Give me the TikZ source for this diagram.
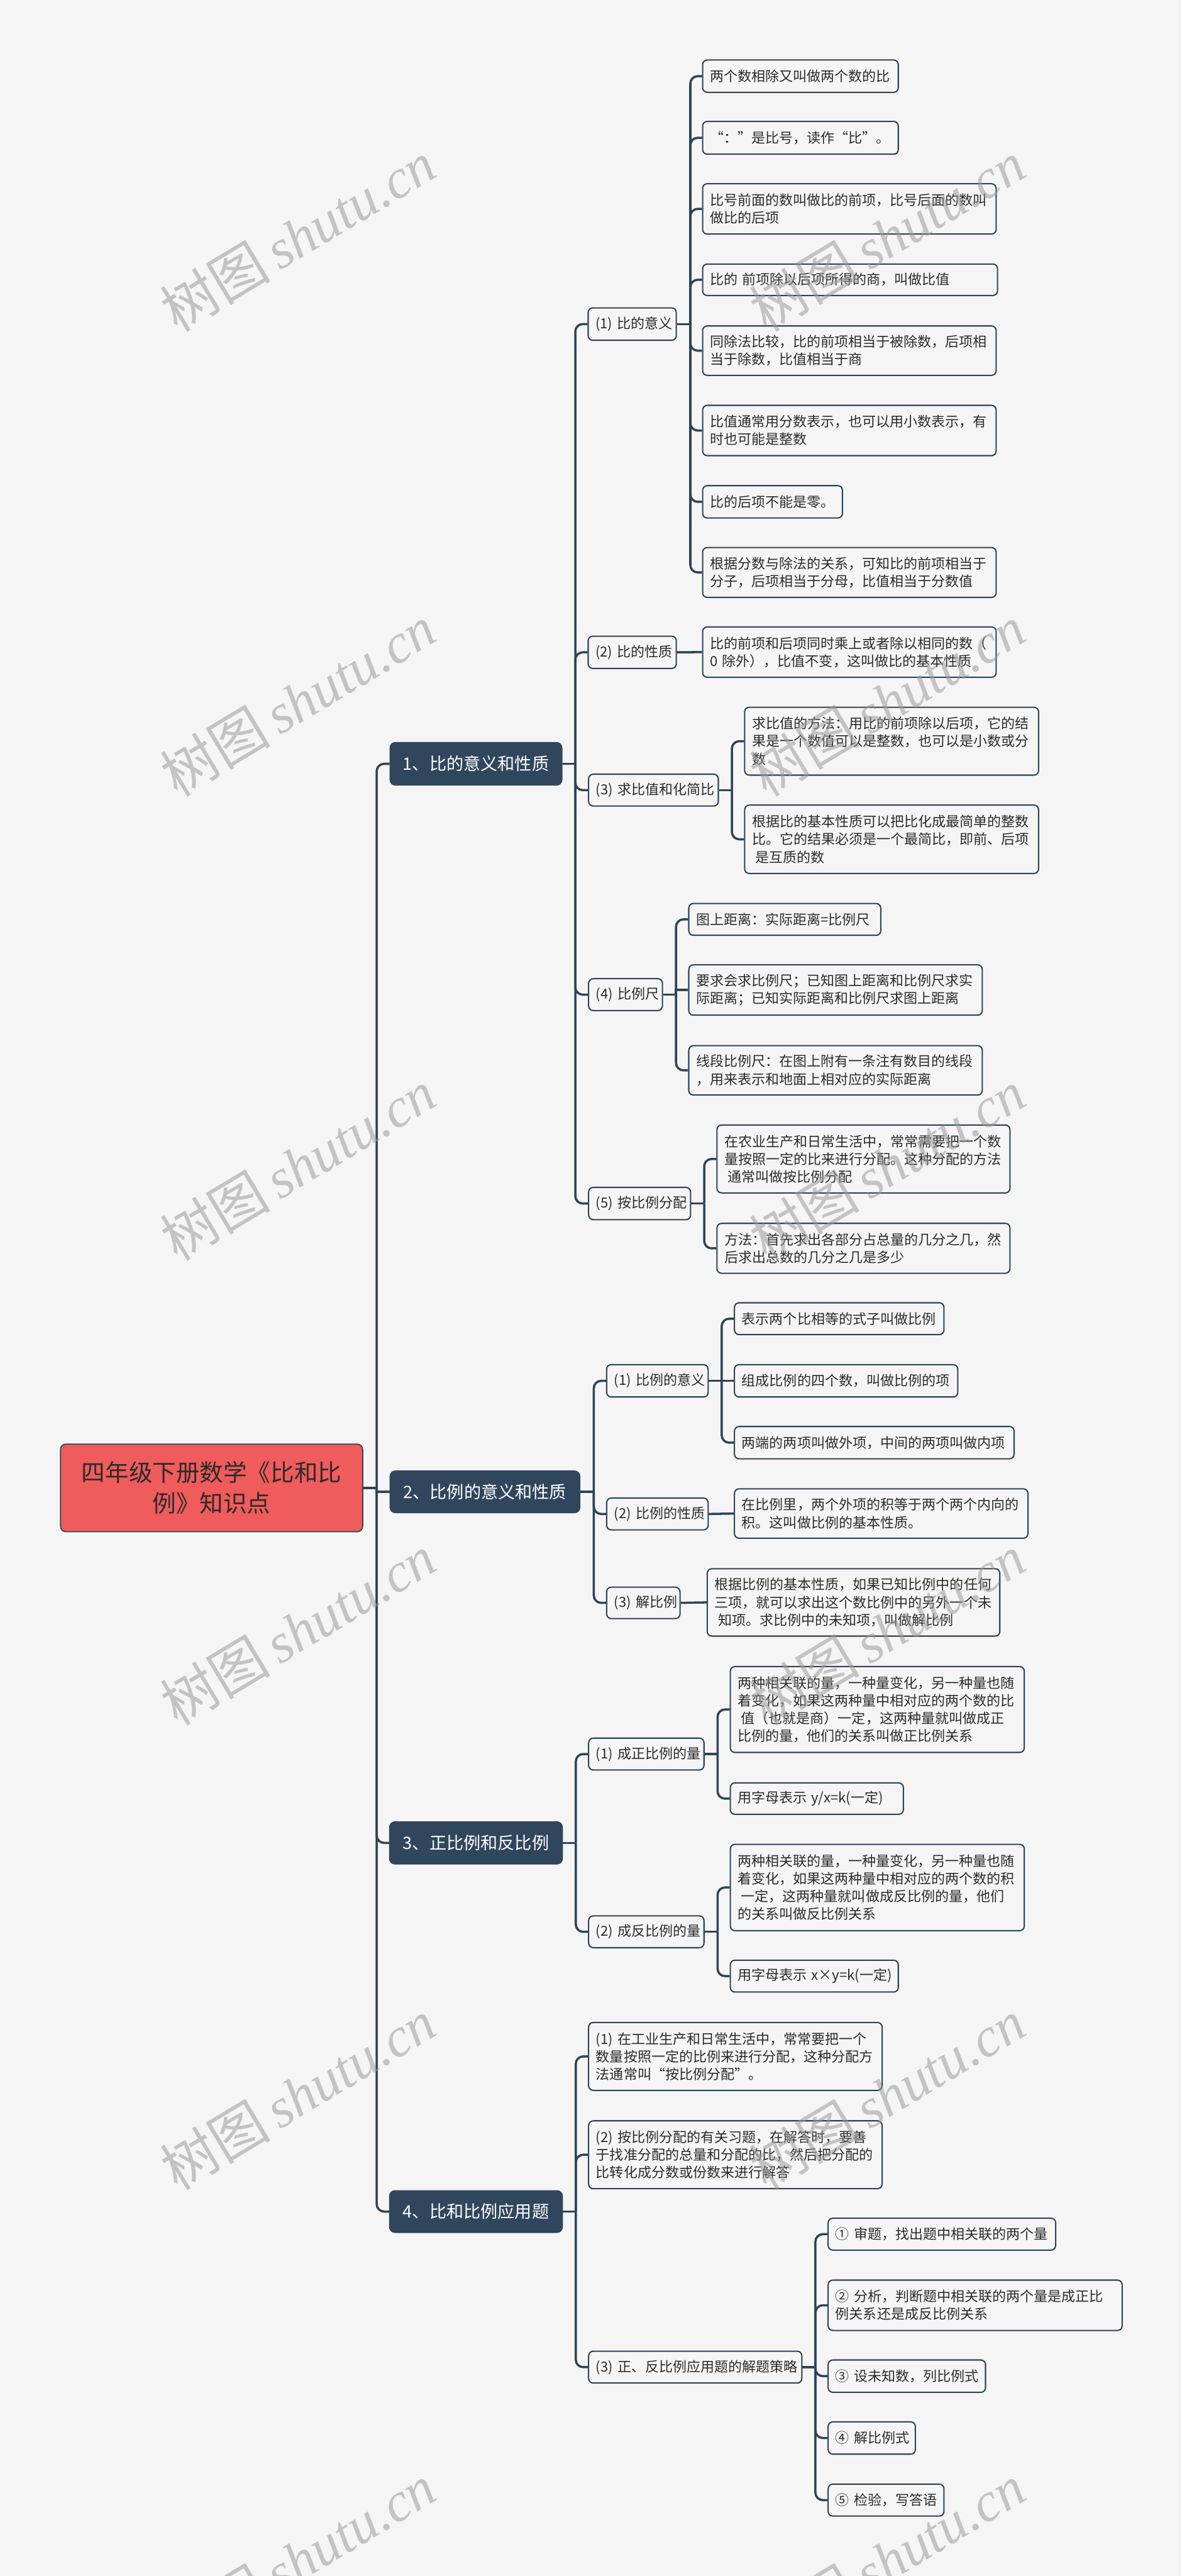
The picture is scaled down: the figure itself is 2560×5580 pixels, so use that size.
\documentclass[tikz,border=0pt]{standalone}
\usepackage{fontspec}
\setmainfont{Noto Sans CJK SC}
\newfontfamily\wmserif{Liberation Serif}
\usetikzlibrary{calc}
\definecolor{bgc}{HTML}{F5F5F5}
\definecolor{linec}{HTML}{2F4459}
\definecolor{lvone}{HTML}{30465D}
\definecolor{rootc}{HTML}{F05B5B}
\definecolor{txtc}{HTML}{2B2B2B}
\definecolor{wmc}{HTML}{9A9A9A}
\tikzset{
 leafbox/.style={draw=linec, line width=0.7pt, fill=bgc, rounded corners=2.5pt, text=txtc, font=\fontsize{7.5pt}{9.6pt}\selectfont, align=left, inner xsep=4pt, inner ysep=1pt, anchor=west},
 lvonebox/.style={draw=lvone, fill=lvone, rounded corners=3pt, text=white, font=\fontsize{9.25pt}{11pt}\selectfont, inner xsep=4pt, anchor=west},
 rootbox/.style={draw=linec, line width=0.6pt, fill=rootc, rounded corners=3pt, text=txtc, font=\fontsize{12.8pt}{16.75pt}\selectfont, align=center},
 conn/.style={draw=linec, line width=1.2pt, rounded corners=4pt},
 connS/.style={draw=linec, line width=1.2pt},
 wmark/.style={rotate=31, text=wmc, text opacity=0.55, font=\fontsize{30pt}{34pt}\selectfont, inner sep=0pt},
}
% leaf / sub-topic box: style, name, left x, centre y, width px, height px, text
\newcommand\bx[7]{\pgfmathsetlengthmacro\tw{(#5-32)*0.25pt}%
 \node[#1, text width=\tw, minimum width=#5*0.25pt, minimum height=#6*0.25pt] (#2) at (#3,#4) {#7};}
\newcommand\ind{\hspace*{0.25em}}
\begin{document}
\begin{tikzpicture}[x=0.25pt,y=-0.25pt]
\useasboundingbox (0,0) rectangle (2560,5580);
\fill[bgc] (0,0) rectangle (2560,5580);

% root
\node[rootbox, minimum width=163.75pt, minimum height=47.5pt] (root) at (458.5,3223) {四年级下册数学《比和比\\例》知识点};

% level 1
\node[lvonebox, minimum width=93.25pt, minimum height=23.25pt] (p1) at (844,1654.5) {1、比的意义和性质};
\node[lvonebox, minimum width=103pt, minimum height=22.75pt] (p2) at (844,3231.5) {2、比例的意义和性质};
\node[lvonebox, minimum width=93.75pt, minimum height=23pt] (p3) at (843,3992) {3、正比例和反比例};
\node[lvonebox, minimum width=93.75pt, minimum height=22.75pt] (p4) at (843,4790.5) {4、比和比例应用题};

% branch 1
\bx{leafbox}{q11}{1273}{702}{191}{70}{(1)~比的意义}
\bx{leafbox}{a1}{1521}{165}{424}{70}{两个数相除又叫做两个数的比}
\bx{leafbox}{a2}{1521}{298.5}{424}{71}{“：”是比号，读作“比”。}
\bx{leafbox}{a3}{1521}{452.5}{636}{109}{比号前面的数叫做比的前项，比号后面的数叫\\做比的后项}
\bx{leafbox}{a4}{1521}{606}{639}{68}{比的~前项除以后项所得的商，叫做比值}
\bx{leafbox}{a5}{1521}{759.5}{636}{107}{同除法比较，比的前项相当于被除数，后项相\\当于除数，比值相当于商}
\bx{leafbox}{a6}{1521}{932.5}{636}{109}{比值通常用分数表示，也可以用小数表示，有\\时也可能是整数}
\bx{leafbox}{a7}{1521}{1087}{303}{70}{比的后项不能是零。}
\bx{leafbox}{a8}{1521}{1240}{636}{108}{根据分数与除法的关系，可知比的前项相当于\\分子，后项相当于分母，比值相当于分数值}
\bx{leafbox}{q12}{1273}{1413}{191}{70}{(2)~比的性质}
\bx{leafbox}{b1}{1521}{1412.5}{636}{109}{比的前项和后项同时乘上或者除以相同的数（\\0~除外），比值不变，这叫做比的基本性质}
\bx{leafbox}{q13}{1274}{1711.5}{281}{69}{(3)~求比值和化简比}
\bx{leafbox}{c1}{1612}{1605.5}{637}{147}{求比值的方法：用比的前项除以后项，它的结\\果是一个数值可以是整数，也可以是小数或分\\数}
\bx{leafbox}{c2}{1612}{1818}{637}{148}{根据比的基本性质可以把比化成最简单的整数\\比。它的结果必须是一个最简比，即前、后项\\\ind 是互质的数}
\bx{leafbox}{q14}{1274}{2154.5}{160}{69}{(4)~比例尺}
\bx{leafbox}{d1}{1491}{1991.5}{416}{69}{图上距离：实际距离=比例尺}
\bx{leafbox}{d2}{1491}{2144.5}{636}{109}{要求会求比例尺；已知图上距离和比例尺求实\\际距离；已知实际距离和比例尺求图上距离}
\bx{leafbox}{d3}{1491}{2318.5}{636}{107}{线段比例尺：在图上附有一条注有数目的线段\\，用来表示和地面上相对应的实际距离}
\bx{leafbox}{q15}{1274}{2607}{221}{70}{(5)~按比例分配}
\bx{leafbox}{e1}{1552}{2510.5}{635}{147}{在农业生产和日常生活中，常常需要把一个数\\量按照一定的比来进行分配。这种分配的方法\\\ind 通常叫做按比例分配}
\bx{leafbox}{e2}{1552}{2704}{635}{108}{方法：首先求出各部分占总量的几分之几，然\\后求出总数的几分之几是多少}

% branch 2
\bx{leafbox}{q21}{1313}{2991}{220}{70}{(1)~比例的意义}
\bx{leafbox}{f1}{1590}{2856.5}{454}{69}{表示两个比相等的式子叫做比例}
\bx{leafbox}{f2}{1590}{2991}{484}{70}{组成比例的四个数，叫做比例的项}
\bx{leafbox}{f3}{1590}{3125}{606}{70}{两端的两项叫做外项，中间的两项叫做内项}
\bx{leafbox}{q22}{1313}{3279.5}{220}{69}{(2)~比例的性质}
\bx{leafbox}{g1}{1590}{3278.5}{636}{107}{在比例里，两个外项的积等于两个两个内向的\\积。这叫做比例的基本性质。}
\bx{leafbox}{q23}{1313}{3472}{159}{68}{(3)~解比例}
\bx{leafbox}{h1}{1531}{3471}{634}{146}{根据比例的基本性质，如果已知比例中的任何\\三项，就可以求出这个数比例中的另外一个未\\\ind 知项。求比例中的未知项，叫做解比例}

% branch 3
\bx{leafbox}{q31}{1274}{3799.5}{250}{69}{(1)~成正比例的量}
\bx{leafbox}{i1}{1581}{3703}{637}{186}{两种相关联的量，一种量变化，另一种量也随\\着变化，如果这两种量中相对应的两个数的比\\\ind 值（也就是商）一定，这两种量就叫做成正\\比例的量，他们的关系叫做正比例关系}
\bx{leafbox}{i2}{1581}{3896}{375}{68}{用字母表示~y/x=k(一定)}
\bx{leafbox}{q32}{1274}{4184.5}{250}{69}{(2)~成反比例的量}
\bx{leafbox}{j1}{1581}{4088.5}{637}{187}{两种相关联的量，一种量变化，另一种量也随\\着变化，如果这两种量中相对应的两个数的积\\\ind 一定，这两种量就叫做成反比例的量，他们\\的关系叫做反比例关系}
\bx{leafbox}{j2}{1581}{4280.5}{364}{69}{用字母表示~x×y=k(一定)}

% branch 4
\bx{leafbox}{q41}{1274}{4454.5}{636}{147}{(1)~在工业生产和日常生活中，常常要把一个\\数量按照一定的比例来进行分配，这种分配方\\法通常叫“按比例分配”。}
\bx{leafbox}{q42}{1274}{4667.5}{636}{147}{(2)~按比例分配的有关习题，在解答时，要善\\于找准分配的总量和分配的比，然后把分配的\\比转化成分数或份数来进行解答}
\bx{leafbox}{q43}{1274}{5127.5}{462}{69}{(3)~正、反比例应用题的解题策略}
\bx{leafbox}{m1}{1793}{4839.5}{493}{69}{①~审题，找出题中相关联的两个量}
\bx{leafbox}{m2}{1793}{4993.5}{637}{109}{②~分析，判断题中相关联的两个量是成正比\\例关系还是成反比例关系}
\bx{leafbox}{m3}{1793}{5147}{341}{70}{③~设未知数，列比例式}
\bx{leafbox}{m4}{1793}{5281}{189}{70}{④~解比例式}
\bx{leafbox}{m5}{1793}{5415.5}{251}{69}{⑤~检验，写答语}

% connectors: root
\coordinate (broot) at ($(root.east)+(29,0)$);
\draw[connS] (root.east) -- (broot);
\foreach \c in {p1,p3,p4} {\draw[conn] (broot) |- (\c.west);}
\draw[connS] (broot) |- (p2.west);
% level 1
\coordinate (bp1) at ($(p1.east)+(28,0)$);
\draw[connS] (p1.east) -- (bp1);
\foreach \c in {q11,q12,q13,q14,q15} {\draw[conn] (bp1) |- (\c.west);}
\coordinate (bp2) at ($(p2.east)+(29,0)$);
\draw[connS] (p2.east) -- (bp2);
\foreach \c in {q21,q22,q23} {\draw[conn] (bp2) |- (\c.west);}
\coordinate (bp3) at ($(p3.east)+(28,0)$);
\draw[connS] (p3.east) -- (bp3);
\foreach \c in {q31,q32} {\draw[conn] (bp3) |- (\c.west);}
\coordinate (bp4) at ($(p4.east)+(28,0)$);
\draw[connS] (p4.east) -- (bp4);
\foreach \c in {q41,q42,q43} {\draw[conn] (bp4) |- (\c.west);}
% level 2
\coordinate (bq11) at ($(q11.east)+(29,0)$);
\draw[connS] (q11.east) -- (bq11);
\foreach \c in {a1,a2,a3,a4,a5,a6,a7,a8} {\draw[conn] (bq11) |- (\c.west);}
\draw[connS] (q12.east) -- (b1.west);
\coordinate (bq13) at ($(q13.east)+(28,0)$);
\draw[connS] (q13.east) -- (bq13);
\foreach \c in {c1,c2} {\draw[conn] (bq13) |- (\c.west);}
\coordinate (bq14) at ($(q14.east)+(28,0)$);
\draw[connS] (q14.east) -- (bq14);
\foreach \c in {d1,d3} {\draw[conn] (bq14) |- (\c.west);}
\draw[connS] (bq14) |- (d2.west);
\coordinate (bq15) at ($(q15.east)+(28,0)$);
\draw[connS] (q15.east) -- (bq15);
\foreach \c in {e1,e2} {\draw[conn] (bq15) |- (\c.west);}
\coordinate (bq21) at ($(q21.east)+(28,0)$);
\draw[connS] (q21.east) -- (f2.west);
\foreach \c in {f1,f3} {\draw[conn] (bq21) |- (\c.west);}
\draw[connS] (q22.east) -- (g1.west);
\draw[connS] (q23.east) -- (h1.west);
\coordinate (bq31) at ($(q31.east)+(28,0)$);
\draw[connS] (q31.east) -- (bq31);
\foreach \c in {i1,i2} {\draw[conn] (bq31) |- (\c.west);}
\coordinate (bq32) at ($(q32.east)+(28,0)$);
\draw[connS] (q32.east) -- (bq32);
\foreach \c in {j1,j2} {\draw[conn] (bq32) |- (\c.west);}
\coordinate (bq43) at ($(q43.east)+(28,0)$);
\draw[connS] (q43.east) -- (bq43);
\foreach \c in {m1,m2,m3,m4,m5} {\draw[conn] (bq43) |- (\c.west);}

% watermarks
\foreach \k in {0,...,5} {
 \node[wmark] (wl\k) at (645,{511+1006.5*\k}) {树图\,{\wmserif\itshape shutu.cn}};
 \node[wmark] (wr\k) at (1922,{511+1006.5*\k}) {树图\,{\wmserif\itshape shutu.cn}};
}
\end{tikzpicture}
\end{document}
